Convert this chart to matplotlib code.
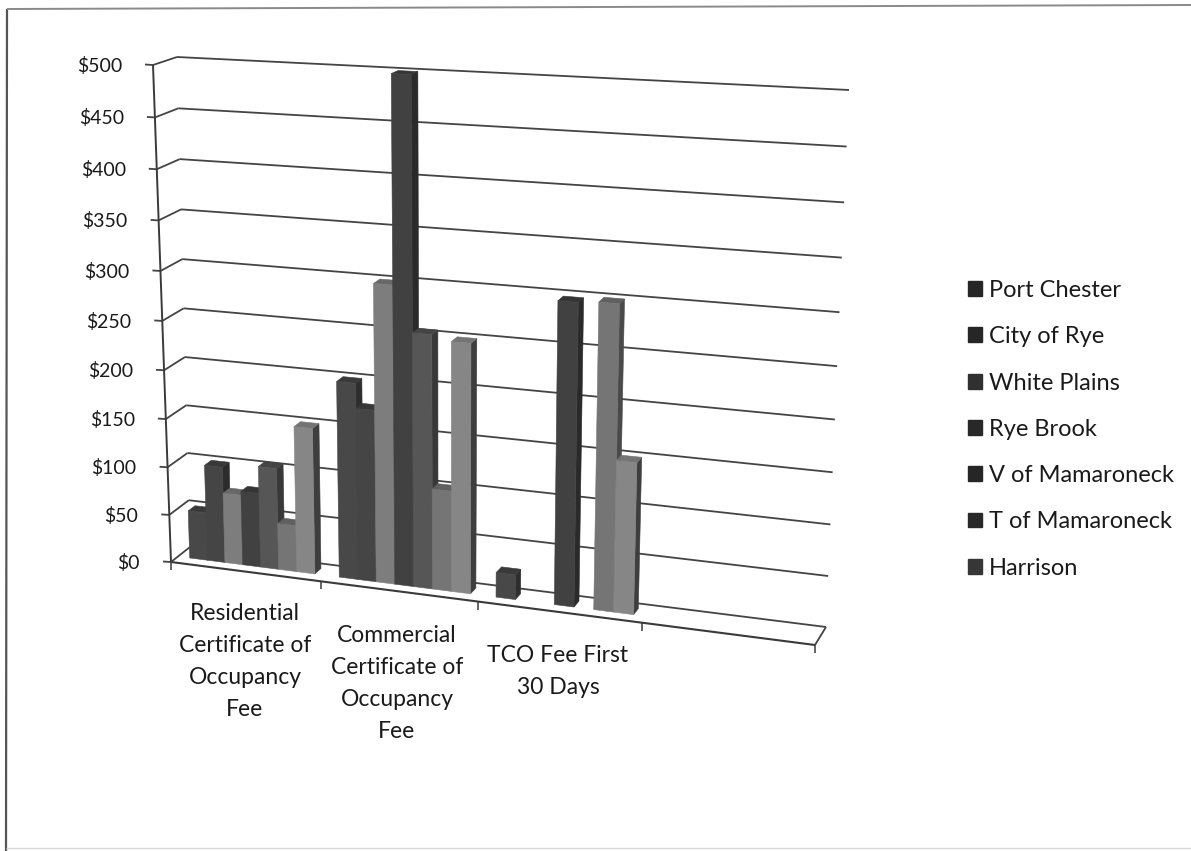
import numpy as np
import matplotlib
matplotlib.use("Agg")
import matplotlib.pyplot as plt
from matplotlib.patches import Polygon, Patch

# ---------- data ----------
categories = ["Residential\nCertificate of\nOccupancy\nFee",
              "Commercial\nCertificate of\nOccupancy\nFee",
              "TCO Fee First\n30 Days"]
series_names = ["Port Chester", "City of Rye", "White Plains", "Rye Brook",
                "V of Mamaroneck", "T of Mamaroneck", "Harrison"]
port_chester = [50, 200, 25]
city_of_rye = [100, 175, np.nan]
white_plains = [73, 300, np.nan]
rye_brook = [77, 500, 298]
v_of_mamaroneck = [105, 255, np.nan]
t_of_mamaroneck = [48, 102, 300]
harrison = [150, 250, 150]
series_values = [port_chester, city_of_rye, white_plains, rye_brook,
                 v_of_mamaroneck, t_of_mamaroneck, harrison]
y_ticks = [0, 50, 100, 150, 200, 250, 300, 350, 400, 450, 500]
y_labels = ["$" + str(t) for t in y_ticks]

face_colors = ["#484848", "#454545", "#7d7d7d", "#414141", "#565656", "#757575", "#868686"]
side_colors = ["#2e2e2e", "#2c2c2c", "#4e4e4e", "#2a2a2a", "#383838", "#4a4a4a", "#3e3e3e"]
top_colors = ["#3a3a3a", "#383838", "#686868", "#353535", "#454545", "#606060", "#747474"]
legend_colors = ["#262626", "#262626", "#303030", "#282828", "#262626", "#282828", "#363636"]

# ---------- perspective frame of the 3-D box (pixel canvas) ----------
N_SLOTS = 4
VMAX = 500
FRONT = [(171, 562), (815, 645), (839, 100), (153, 65)]
BACK = [(190, 547), (826, 627), (849, 90), (177, 57)]


def homography(dst):
    src = [(0, 0), (N_SLOTS, 0), (N_SLOTS, VMAX), (0, VMAX)]
    A, b = [], []
    for (s, t), (x, y) in zip(src, dst):
        A.append([s, t, 1, 0, 0, 0, -s * x, -t * x]); b.append(x)
        A.append([0, 0, 0, s, t, 1, -s * y, -t * y]); b.append(y)
    h = np.linalg.solve(np.array(A, float), np.array(b, float))
    return np.append(h, 1).reshape(3, 3)


H_F, H_B = homography(FRONT), homography(BACK)


def project(u, v, d=0.0):
    p = np.array([u, v, 1.0])
    f, b = H_F @ p, H_B @ p
    f, b = f[:2] / f[2], b[:2] / b[2]
    return tuple(f + (b - f) * d)


fig = plt.figure(figsize=(11.91, 8.51), dpi=100)
ax = fig.add_axes([0, 0, 1, 1])
ax.set_xlim(0, 1191)
ax.set_ylim(851, 0)
ax.axis("off")
plt.rcParams["font.family"] = "Lato"

LINE = "#444444"
LW = 1.3
TEXT = "#1a1a1a"


def seg(a, b, color=LINE, lw=LW, z=1):
    ax.plot([a[0], b[0]], [a[1], b[1]], color=color, lw=lw, zorder=z, solid_capstyle="butt")


# outer frame
seg((6, 851), (7, 9), "#555555", 1.6)
seg((7, 9), (1191, 5), "#8a8a8a", 1.4)
seg((6, 848), (1191, 848), "#d8d8d8", 1.0)

# gridlines, wall and axis
for t, lab in zip(y_ticks, y_labels):
    f = project(0, t, 0)
    seg(f, project(0, t, 1))
    seg(project(0, t, 1), project(N_SLOTS, t, 1))
    seg((f[0] - 8, f[1] - 0.5), f)
    ax.text(f[0] - 31, f[1] + 1, lab, ha="right", va="center", fontsize=14, color=TEXT)
seg(project(0, 0, 0), project(0, VMAX, 0), "#3a3a3a", 1.4)
seg(project(0, 0, 0), project(N_SLOTS, 0, 0), "#3a3a3a", 1.5)
seg(project(N_SLOTS, 0, 0), project(N_SLOTS, 0, 1))
for u in range(N_SLOTS + 1):
    p = project(u, 0, 0)
    seg(p, (p[0], p[1] + 8), "#3a3a3a", 1.1)

# bars
GAP = 0.08
BW = (1 - 2 * GAP) / len(series_values)
D0, D1 = 0.37, 0.72
for c in range(len(categories)):
    for i, vals in enumerate(series_values):
        v = vals[c]
        if np.isnan(v):
            continue
        u0 = c + GAP + i * BW
        u1 = u0 + BW
        z = 5 + c * 10 + i
        kw = dict(closed=True, zorder=z, lw=0.4)
        ax.add_patch(Polygon([project(u1, 0, D0), project(u1, 0, D1), project(u1, v, D1), project(u1, v, D0)],
                             fc=side_colors[i], ec=side_colors[i], **kw))
        ax.add_patch(Polygon([project(u0, v, D0), project(u1, v, D0), project(u1, v, D1), project(u0, v, D1)],
                             fc=top_colors[i], ec=top_colors[i], **kw))
        ax.add_patch(Polygon([project(u0, 0, D0), project(u1, 0, D0), project(u1, v, D0), project(u0, v, D0)],
                             fc=face_colors[i], ec=face_colors[i], **kw))

# category labels
cat_x = [245, 397, 558]
cat_y = [603, 625, 645]
for x, y, lab in zip(cat_x, cat_y, categories):
    ax.text(x, y, lab, ha="center", va="top", fontsize=16.5, color=TEXT, linespacing=1.65)

# legend
handles = [Patch(fc=c, ec=c) for c in legend_colors]
ax.legend(handles, series_names, loc="upper left", bbox_to_anchor=(968 / 1191, 1 - 280 / 851),
          bbox_transform=fig.transFigure, frameon=False, fontsize=17, labelspacing=1.07,
          handlelength=0.6, handleheight=0.6, handletextpad=0.3, borderpad=0, borderaxespad=0,
          labelcolor=TEXT)

fig.savefig("out.png", dpi=100, facecolor="white")
